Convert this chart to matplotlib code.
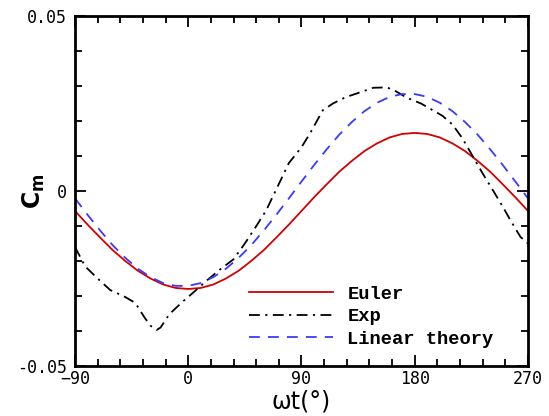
import matplotlib
matplotlib.use("Agg")
import matplotlib.pyplot as plt
from matplotlib.ticker import MultipleLocator

# -------------------------------
# data
# -------------------------------
theta = list(range(-90, 271, 10))

euler = [-0.0057, -0.0096, -0.0133, -0.0169, -0.0200, -0.0228, -0.0250, -0.0267,
         -0.0277, -0.0280, -0.0277, -0.0267, -0.0250, -0.0228, -0.0200, -0.0169,
         -0.0133, -0.0096, -0.0057, -0.0018, 0.0019, 0.0055, 0.0086, 0.0114,
         0.0136, 0.0153, 0.0163, 0.0166, 0.0163, 0.0153, 0.0136, 0.0114,
         0.0086, 0.0055, 0.0019, -0.0018, -0.0057]

linear = [-0.0021, -0.0068, -0.0113, -0.0155, -0.0191, -0.0222, -0.0246, -0.0263,
          -0.0271, -0.0271, -0.0263, -0.0246, -0.0222, -0.0191, -0.0155, -0.0113,
          -0.0068, -0.0021, 0.0027, 0.0074, 0.0119, 0.0161, 0.0197, 0.0228,
          0.0252, 0.0269, 0.0277, 0.0277, 0.0269, 0.0252, 0.0228, 0.0197,
          0.0161, 0.0119, 0.0074, 0.0027, -0.0021]

exp_theta = [-90, -82, -72, -62, -50, -42, -35, -30, -25, -22, -15, -5, 5, 15, 25,
             36, 45, 55, 62, 70, 80, 90, 97, 107, 115, 125, 135, 147, 158, 165,
             174, 185, 202, 210, 218, 226, 234, 242, 250, 256, 264, 270]
exp_cm = [-0.0160, -0.0215, -0.0250, -0.0283, -0.0303, -0.0320, -0.0360, -0.0385,
          -0.0397, -0.0390, -0.0352, -0.0318, -0.0287, -0.0255, -0.0225, -0.0195,
          -0.0150, -0.0095, -0.0055, 0.0005, 0.0080, 0.0125, 0.0166, 0.0231,
          0.0250, 0.0268, 0.0280, 0.0295, 0.0296, 0.0285, 0.0266, 0.0250,
          0.0215, 0.0190, 0.0150, 0.0100, 0.0050, 0.0003, -0.0045, -0.0083,
          -0.0131, -0.0150]

xticks = [-90, 0, 90, 180, 270]
yticks = [-0.05, 0, 0.05]
ytick_labels = ["-0.05", "0", "0.05"]

# -------------------------------
# figure
# -------------------------------
fig = plt.figure(figsize=(5.49, 4.16), dpi=100)
ax = fig.add_axes([0.1366, 0.1202, 0.8251, 0.8413])

ax.plot(theta, euler, color="#d40000", lw=1.3, label="Euler")
ax.plot(exp_theta, exp_cm, color="black", lw=1.3, dashes=(6, 3, 1.2, 3), label="Exp")
ax.plot(theta, linear, color="#3a3aff", lw=1.3, dashes=(6, 4.5), label="Linear theory")

ax.set_xlim(-90, 270)
ax.set_ylim(-0.05, 0.05)
ax.set_xticks(xticks)
ax.set_yticks(yticks)
ax.set_yticklabels(ytick_labels)
ax.xaxis.set_minor_locator(MultipleLocator(18))
ax.yaxis.set_minor_locator(MultipleLocator(0.01))

ax.tick_params(which="both", direction="in", top=True, right=True, width=1.3)
ax.tick_params(which="major", length=8, labelsize=12)
ax.tick_params(axis="y", which="major", pad=6)
ax.tick_params(axis="x", which="major", pad=3)
ax.tick_params(which="minor", length=5)
for lab in ax.get_xticklabels() + ax.get_yticklabels():
    lab.set_fontfamily("DejaVu Sans Mono")
for sp in ax.spines.values():
    sp.set_linewidth(2)

ax.set_xlabel("ωt(°)", fontsize=17, fontfamily="DejaVu Sans", labelpad=1)
ax.set_ylabel(r"C$_{\mathregular{m}}$", fontsize=17, fontweight="bold")
ax.yaxis.set_label_coords(-0.062, 0.5)

ax.legend(loc="lower left", bbox_to_anchor=(0.359, 0.02), frameon=False,
          prop={"family": "Liberation Mono", "weight": "bold", "size": 13.5},
          handlelength=4.5, handletextpad=0.75, labelspacing=0.28,
          borderaxespad=0.2)

fig.savefig("out.png", dpi=100)
